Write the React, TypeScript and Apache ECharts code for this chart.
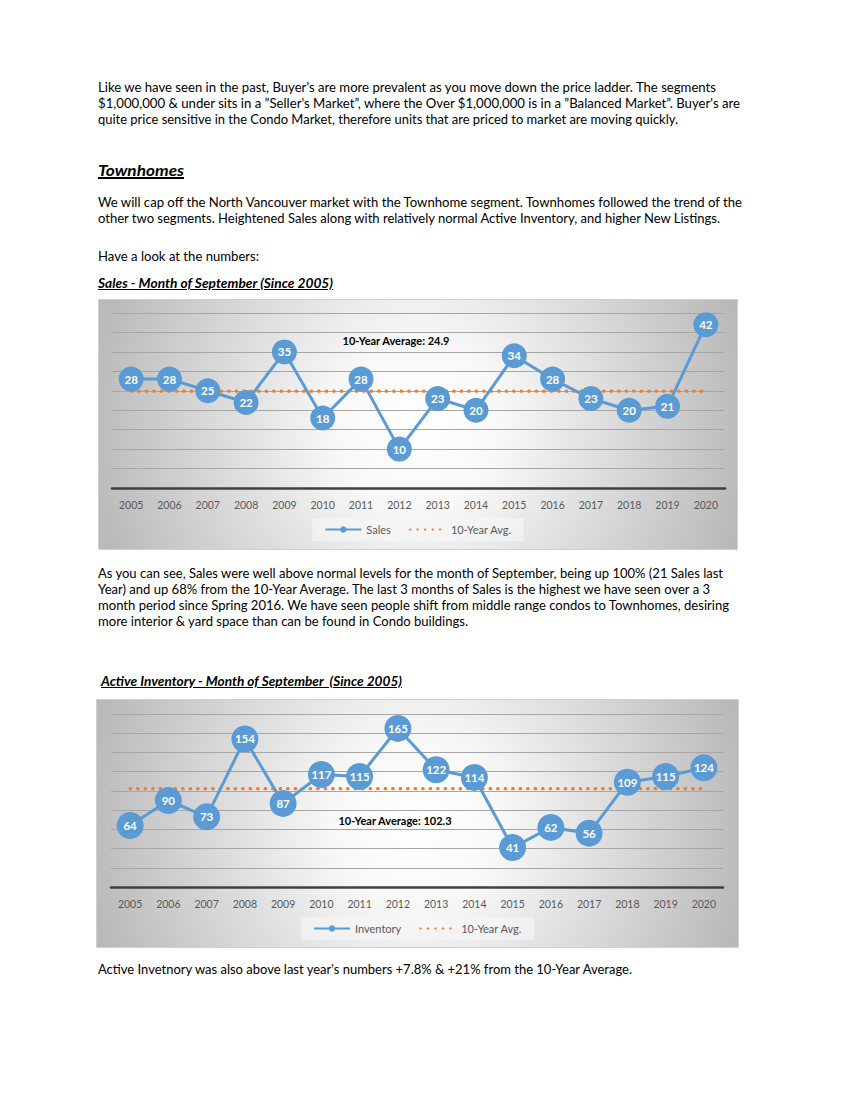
import React, { useEffect, useLayoutEffect, useRef } from "react";
import * as echarts from "echarts";

// ---------- data ----------
const years = ["2005", "2006", "2007", "2008", "2009", "2010", "2011", "2012", "2013", "2014", "2015", "2016", "2017", "2018", "2019", "2020"];
const salesValues = [28, 28, 25, 22, 35, 18, 28, 10, 23, 20, 34, 28, 23, 20, 21, 42];
const salesAverage = 24.9;
const salesAverageLabel = "10-Year Average: 24.9";
const inventoryValues = [64, 90, 73, 154, 87, 117, 115, 165, 122, 114, 41, 62, 56, 109, 115, 124];
const inventoryAverage = 102.3;
const inventoryAverageLabel = "10-Year Average: 102.3";
const salesAxisRange = [0, 45, 5];
const inventoryAxisRange = [0, 180, 20];

const FONT = "Lato, 'Open Sans', sans-serif";

type ChartCfg = {
  width: number;
  height: number;
  seriesName: string;
  values: number[];
  avg: number;
  avgLabel: string;
  axis: number[];
  grid: { left: number; right: number; top: number; bottom: number };
  labelPos: [number, number];
  legendTop: number;
  symbolSize: number;
};

function buildOption(c: ChartCfg): any {
  const avgData = years.map(() => c.avg);
  return {
    animation: false,
    textStyle: { fontFamily: FONT },
    graphic: [
      {
        type: "rect",
        silent: true,
        z: -10,
        shape: { x: 0.5, y: 0.5, width: c.width - 1, height: c.height - 1 },
        style: {
          fill: new echarts.graphic.RadialGradient(
            c.width / 2,
            c.height / 2,
            c.width * 0.52,
            [
              { offset: 0, color: "#ffffff" },
              { offset: 0.25, color: "#f8f8f8" },
              { offset: 1, color: "#b9b9b9" },
            ],
            true
          ),
          stroke: "#d0d0d0",
          lineWidth: 1,
        },
      },
      {
        type: "text",
        z: 20,
        x: c.labelPos[0],
        y: c.labelPos[1],
        style: {
          text: c.avgLabel,
          fill: "#000000",
          font: `bold 11px ${FONT}`,
          align: "center",
          verticalAlign: "middle",
        },
      },
    ],
    grid: { ...c.grid, containLabel: false },
    legend: {
      top: c.legendTop,
      left: "center",
      itemWidth: 36,
      itemHeight: 8,
      itemGap: 18,
      padding: [6, 12],
      backgroundColor: "rgba(246,246,246,0.6)",
      textStyle: { color: "#595959", fontSize: 11, fontFamily: FONT },
      data: [
        { name: c.seriesName },
        { name: "10-Year Avg.", itemStyle: { color: "rgba(0,0,0,0)", opacity: 0 } },
      ],
    },
    xAxis: {
      type: "category",
      data: years,
      boundaryGap: true,
      axisLine: { lineStyle: { color: "#404040", width: 2.5 } },
      axisTick: { show: false },
      axisLabel: { color: "#595959", fontSize: 10.5, margin: 11, fontFamily: FONT },
    },
    yAxis: {
      type: "value",
      min: c.axis[0],
      max: c.axis[1],
      interval: c.axis[2],
      axisLabel: { show: false },
      axisLine: { show: false },
      axisTick: { show: false },
      splitLine: { lineStyle: { color: "#a6a6a6", width: 1 } },
    },
    series: [
      {
        name: "10-Year Avg.",
        type: "line",
        data: avgData,
        symbol: "none",
        z: 2,
        itemStyle: { color: "#ed7d31" },
        lineStyle: { color: "#ed7d31", width: 3.2, type: [0.5, 7], cap: "round" },
      },
      {
        name: c.seriesName,
        type: "line",
        data: c.values,
        symbol: "circle",
        symbolSize: c.symbolSize,
        z: 3,
        itemStyle: { color: "#5b9bd5" },
        lineStyle: { color: "#5b9bd5", width: 3 },
        label: {
          show: true,
          position: "inside",
          color: "#ffffff",
          fontSize: 11.5,
          fontWeight: "bold",
          fontFamily: FONT,
        },
      },
    ],
  };
}

function Chart({ x, y, cfg }: { x: number; y: number; cfg: ChartCfg }) {
  const ref = useRef<HTMLDivElement>(null);
  useEffect(() => {
    if (!ref.current) return;
    const chart = echarts.init(ref.current, undefined, { renderer: "svg" });
    chart.setOption(buildOption(cfg));
    return () => chart.dispose();
  }, []);
  return (
    <div
      ref={ref}
      style={{ position: "absolute", left: x, top: y, width: cfg.width, height: cfg.height }}
    />
  );
}

function Line({
  x,
  y,
  w,
  text,
  style,
}: {
  x: number;
  y: number;
  w: number;
  text: string;
  style?: React.CSSProperties;
}) {
  const ref = useRef<HTMLDivElement>(null);
  useLayoutEffect(() => {
    const el = ref.current;
    if (!el) return;
    el.style.transform = "none";
    const actual = el.getBoundingClientRect().width;
    if (actual > 0) el.style.transform = `scaleX(${w / actual})`;
  }, []);
  return (
    <div
      ref={ref}
      style={{
        position: "absolute",
        left: x,
        top: y - 9,
        whiteSpace: "nowrap",
        transformOrigin: "0 0",
        lineHeight: "18px",
        fontFamily: FONT,
        fontSize: 13,
        color: "#000",
        ...style,
      }}
    >
      {text}
    </div>
  );
}

const headStyle: React.CSSProperties = {
  fontWeight: 700,
  fontStyle: "italic",
  textDecoration: "underline",
  fontSize: 12.5,
};

export default function App() {
  const salesCfg: ChartCfg = {
    width: 640,
    height: 251,
    seriesName: "Sales",
    values: salesValues,
    avg: salesAverage,
    avgLabel: salesAverageLabel,
    axis: salesAxisRange,
    grid: { left: 14, right: 13, top: 14, bottom: 62 },
    labelPos: [298, 41],
    legendTop: 219,
    symbolSize: 25,
  };
  const invCfg: ChartCfg = {
    width: 643,
    height: 249,
    seriesName: "Inventory",
    values: inventoryValues,
    avg: inventoryAverage,
    avgLabel: inventoryAverageLabel,
    axis: inventoryAxisRange,
    grid: { left: 15, right: 16, top: 15, bottom: 61 },
    labelPos: [299, 121],
    legendTop: 218,
    symbolSize: 27,
  };
  return (
    <div
      style={{
        position: "absolute",
        left: 0,
        top: 0,
        width: 859,
        height: 1111,
        background: "#ffffff",
        overflow: "hidden",
      }}
    >
      <Line x={98} y={87} w={618} text={"Like we have seen in the past, Buyer's are more prevalent as you move down the price ladder. The segments"} />
      <Line x={98} y={103} w={642} text={"$1,000,000 & under sits in a \u201DSeller's Market\u201D, where the Over $1,000,000 is in a \u201DBalanced Market\u201D. Buyer's are"} />
      <Line x={98} y={119} w={580} text={"quite price sensitive in the Condo Market, therefore units that are priced to market are moving quickly."} />
      <Line
        x={98}
        y={170}
        w={86}
        text={"Townhomes"}
        style={{ ...headStyle, fontSize: 16, textDecorationThickness: "2px" }}
      />
      <Line x={98} y={202} w={644} text={"We will cap off the North Vancouver market with the Townhome segment. Townhomes followed the trend of the"} />
      <Line x={98} y={218} w={622} text={"other two segments. Heightened Sales along with relatively normal Active Inventory, and higher New Listings."} />
      <Line x={98} y={256} w={161} text={"Have a look at the numbers:"} />
      <Line x={98} y={284} w={235} text={"Sales - Month of September (Since 2005)"} style={headStyle} />

      <Chart x={98} y={299} cfg={salesCfg} />

      <Line x={98} y={573} w={625} text={"As you can see, Sales were well above normal levels for the month of September, being up 100% (21 Sales last"} />
      <Line x={98} y={589} w={612} text={"Year) and up 68% from the 10-Year Average. The last 3 months of Sales is the highest we have seen over a 3"} />
      <Line x={98} y={605} w={631} text={"month period since Spring 2016. We have seen people shift from middle range condos to Townhomes, desiring"} />
      <Line x={98} y={621} w={370} text={"more interior & yard space than can be found in Condo buildings."} />

      <Line x={101} y={682} w={301} text={"Active Inventory - Month of September  (Since 2005)"} style={{ ...headStyle, whiteSpace: "pre" }} />

      <Chart x={96} y={699} cfg={invCfg} />

      <Line x={98} y={969} w={534} text={"Active Invetnory was also above last year's numbers +7.8% & +21% from the 10-Year Average."} />
    </div>
  );
}
